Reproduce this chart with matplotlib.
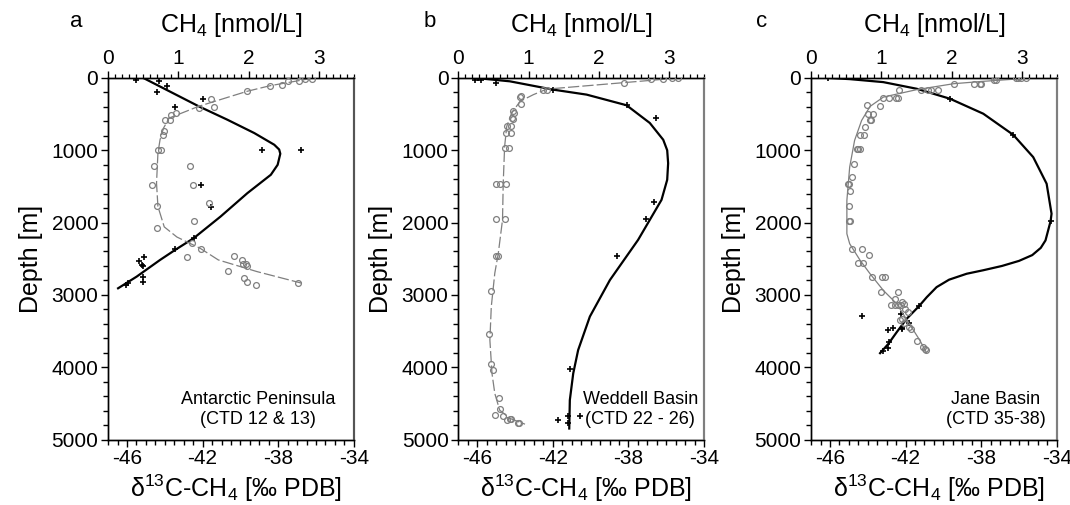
import matplotlib
matplotlib.use("Agg")
import matplotlib.pyplot as plt
from matplotlib.ticker import MultipleLocator, FixedLocator

# ==========================================
# Data
# circles = CH4 concentration (top axis), crosses = d13C-CH4 (bottom axis)
# ==========================================

# --- a: Antarctic Peninsula ---
a_conc = [2.91, 2.81, 2.72, 2.56, 2.48, 2.31, 1.98, 1.47, 1.51, 1.29, 0.97, 0.90, 0.88, 0.81,
          0.80, 0.78, 0.71, 0.75, 0.66, 1.17, 0.62, 1.21, 1.44, 0.69, 1.22, 0.69, 1.19, 1.33,
          1.13, 1.79, 1.91, 1.92, 1.97, 1.98, 1.71, 1.94, 1.98, 2.11, 2.71]
a_conc_depth = [14, 14, 37, 37, 93, 107, 185, 291, 402, 421, 485, 508, 578, 587,
                740, 785, 993, 993, 1224, 1224, 1478, 1478, 1731, 1778, 1972, 2078, 2277, 2368,
                2479, 2461, 2517, 2576, 2576, 2600, 2669, 2762, 2817, 2863, 2831]
a_d13c = [-45.52, -44.28, -43.89, -44.42, -41.97, -43.48, -38.86, -36.82, -42.08, -41.53,
          -42.47, -43.45, -45.08, -45.36, -45.22, -45.14, -45.14, -45.14, -45.93, -46.07]
a_d13c_depth = [24, 47, 107, 199, 291, 402, 1003, 1003, 1482, 1782,
                2216, 2368, 2471, 2526, 2586, 2600, 2756, 2825, 2839, 2863]
a_fit_conc = [2.93, 2.72, 2.31, 1.98, 1.29, 0.87, 0.79, 0.74, 0.71, 0.69, 0.71, 0.80, 0.98,
              1.31, 1.57, 2.12, 2.76]
a_fit_conc_depth = [0, 37, 107, 185, 393, 555, 693, 855, 1039, 1455, 1778, 2060, 2200,
                    2355, 2517, 2678, 2839]
a_fit_d13c = [-45.14, -42.2, -40.69, -39.27, -38.21, -37.95, -37.89, -38.03, -38.39, -39.63,
              -41.05, -42.47, -43.45, -44.25, -45.49, -46.47]
a_fit_d13c_depth = [0, 393, 578, 762, 924, 990, 1048, 1201, 1339, 1593,
                    1917, 2216, 2378, 2517, 2748, 2909]

# --- b: Weddell Basin ---
b_conc = [3.13, 3.05, 2.91, 2.74, 2.36, 1.26, 1.20, 0.89, 0.88, 0.89, 0.78, 0.80, 0.77, 0.78,
          0.70, 0.75, 0.68, 0.75, 0.67, 0.72, 0.54, 0.59, 0.68, 0.54, 0.67, 0.56, 0.54, 0.47,
          0.44, 0.47, 0.50, 0.58, 0.59, 0.53, 0.64, 0.69, 0.74, 0.75, 0.85, 0.87]
b_conc_depth = [5, 5, 15, 15, 70, 162, 171, 255, 262, 360, 462, 485, 554, 565,
                660, 660, 762, 762, 965, 965, 1464, 1464, 1464, 1953, 1953, 2461, 2461, 2946,
                3541, 3951, 4034, 4432, 4585, 4668, 4673, 4733, 4719, 4710, 4765, 4765]
b_d13c = [-45.94, -46.1, -45.8, -45.0, -41.98, -38.1, -36.55, -36.64, -37.08, -38.6,
          -41.1, -41.71, -41.19, -40.57, -41.19]
b_d13c_depth = [5, 25, 30, 70, 162, 370, 554, 1718, 1953, 2461,
                4030, 4733, 4673, 4673, 4778]
b_fit_conc = [3.15, 2.36, 1.26, 1.07, 0.88, 0.76, 0.69, 0.66, 0.64, 0.63, 0.57, 0.52, 0.47,
              0.45, 0.48, 0.52, 0.59, 0.74, 0.95]
b_fit_conc_depth = [0, 65, 155, 231, 324, 485, 670, 947, 1454, 1962, 2424, 2700, 3163,
                    3625, 4086, 4363, 4595, 4710, 4788]
b_fit_d13c = [-46.12, -44.27, -41.98, -40.21, -38.1, -36.87, -36.16, -35.95, -35.9, -35.95,
              -36.25, -36.87, -37.49, -38.98, -40.04, -40.66, -40.92, -41.1, -41.13]
b_fit_d13c_depth = [0, 47, 162, 231, 378, 623, 855, 1000, 1180, 1409,
                    1686, 1963, 2240, 2795, 3300, 3763, 4086, 4455, 4848]

# --- c: Jane Basin ---
c_conc = [2.92, 2.94, 2.99, 3.06, 2.63, 2.61, 2.42, 2.40, 2.32, 2.03, 1.81, 1.71, 1.66, 1.57,
          1.25, 1.24, 1.21, 1.11, 1.03, 0.98, 0.79, 0.81, 0.88, 0.84, 0.86, 0.77, 0.70, 0.76,
          0.65, 0.67, 0.70, 0.61, 0.58, 0.52, 0.54, 0.55, 0.54, 0.54, 0.55, 0.58, 0.72, 0.82,
          0.67, 0.74, 0.87, 1.01, 1.06, 1.00, 1.24, 1.19, 1.14, 1.19, 1.24, 1.28, 1.29, 1.32,
          1.34, 1.38, 1.26, 1.29, 1.33, 1.40, 1.42, 1.51, 1.59, 1.62, 1.63]
c_conc_depth = [7, 7, 7, 7, 35, 35, 90, 90, 90, 80, 173, 173, 173, 173,
                173, 279, 279, 279, 279, 394, 380, 495, 495, 578, 578, 680, 795, 795,
                979, 979, 979, 1187, 1372, 1463, 1463, 1570, 1777, 1980, 1980, 2362, 2362, 2455,
                2561, 2561, 2755, 2755, 2755, 2962, 2962, 3054, 3146, 3146, 3146, 3146, 3100, 3123,
                3192, 3239, 3354, 3330, 3391, 3446, 3469, 3640, 3723, 3746, 3769]
c_d13c = [-46.09, -39.65, -36.31, -34.33, -44.32, -42.95, -42.68, -42.24, -42.17, -42.17,
          -41.8, -41.29, -42.86, -42.91, -43.21]
c_d13c_depth = [3, 288, 786, 1980, 3299, 3483, 3455, 3262, 3455, 3470,
                3391, 3156, 3654, 3731, 3778]
c_fit_conc = [3.15, 2.44, 2.03, 1.50, 1.03, 0.84, 0.72, 0.62, 0.55, 0.51, 0.51, 0.55, 0.70,
              0.84, 1.03, 1.22, 1.40, 1.55, 1.64]
c_fit_conc_depth = [0, 48, 80, 163, 265, 394, 588, 864, 1233, 1694, 2155, 2293, 2524,
                    2708, 2939, 3123, 3400, 3630, 3792]
c_fit_d13c = [-46.09, -44.94, -43.18, -41.41, -39.65, -37.89, -36.31, -35.25, -34.54, -34.28,
              -34.33, -34.6, -34.85, -35.3, -36.0, -36.9, -37.9, -38.77, -39.7, -40.36,
              -40.88, -41.29, -41.94, -42.47, -42.91, -43.35]
c_fit_d13c_depth = [0, 17, 58, 150, 288, 495, 786, 1095, 1463, 1878,
                    1980, 2247, 2350, 2450, 2530, 2600, 2660, 2708, 2790, 2893,
                    3032, 3156, 3330, 3516, 3677, 3806]

panel_letters = ["a", "b", "c"]
panel_notes = ["Antarctic Peninsula\n(CTD 12 & 13)", "Weddell Basin\n(CTD 22 - 26)",
               "Jane Basin\n(CTD 35-38)"]

# ==========================================
# Style
# ==========================================
plt.rcParams["font.family"] = ["Liberation Sans", "DejaVu Sans"]
plt.rcParams["mathtext.default"] = "regular"

GRAY = "#7f7f7f"

fig = plt.figure(figsize=(10.7, 5.05), dpi=100)

lefts = [0.1010, 0.4283, 0.7580]
note_x = [0.61, 0.74, 0.75]
letter_x = [-0.13, -0.115, -0.20]
right_spine = ["#555555", GRAY, GRAY]
conc_dashed = [True, True, False]

panels = [
    (a_conc, a_conc_depth, a_d13c, a_d13c_depth, a_fit_conc, a_fit_conc_depth, a_fit_d13c, a_fit_d13c_depth),
    (b_conc, b_conc_depth, b_d13c, b_d13c_depth, b_fit_conc, b_fit_conc_depth, b_fit_d13c, b_fit_d13c_depth),
    (c_conc, c_conc_depth, c_d13c, c_d13c_depth, c_fit_conc, c_fit_conc_depth, c_fit_d13c, c_fit_d13c_depth),
]

for i, (conc, conc_d, d13c, d13c_d, fconc, fconc_d, fd13c, fd13c_d) in enumerate(panels):
    ax = fig.add_axes([lefts[i], 0.1297, 0.2297, 0.716])
    top = ax.twiny()

    # CH4 concentration on the top axis
    ls = (0, (9, 2.5)) if conc_dashed[i] else "-"
    top.plot(fconc, fconc_d, color=GRAY, lw=0.9, ls=ls, zorder=2)
    top.plot(conc, conc_d, ls="none", marker="o", ms=4.2, mfc="none", mec=GRAY, mew=0.9, zorder=3)

    # d13C on the bottom axis
    ax.plot(fd13c, fd13c_d, color="black", lw=1.6, zorder=4)
    ax.plot(d13c, d13c_d, ls="none", marker="+", ms=5, mec="black", mew=1.2, zorder=5)

    ax.set_xlim(-47, -34)
    top.set_xlim(0, 3.5)
    ax.set_ylim(5000, 0)

    ax.xaxis.set_major_locator(FixedLocator([-46, -42, -38, -34]))
    ax.xaxis.set_minor_locator(MultipleLocator(0.5))
    ax.yaxis.set_major_locator(MultipleLocator(1000))
    ax.yaxis.set_minor_locator(MultipleLocator(200))
    top.xaxis.set_major_locator(MultipleLocator(1))
    top.xaxis.set_minor_locator(MultipleLocator(0.1))

    ax.tick_params(axis="both", which="major", direction="out", length=5, width=1,
                   labelsize=15, pad=2)
    ax.tick_params(axis="both", which="minor", direction="out", length=3.5, width=1)
    top.tick_params(axis="x", which="major", direction="out", length=5, width=1,
                    labelsize=15, pad=2)
    top.tick_params(axis="x", which="minor", direction="out", length=3, width=0.9)
    ax.set_xticklabels(["-46", "-42", "-38", "-34"])

    for a in (ax, top):
        a.spines["right"].set_color(right_spine[i])
        a.spines["right"].set_linewidth(1.5)
        for s in ("left", "top", "bottom"):
            a.spines[s].set_linewidth(1.0)

    top.set_xlabel("CH$_4$ [nmol/L]", fontsize=18)
    top.xaxis.set_label_coords(0.5, 1.147)
    top.xaxis.label.set_va("center")

    ax.set_xlabel("δ$^{13}$C-CH$_4$ [‰ PDB]", fontsize=18)
    ax.xaxis.set_label_coords(0.52, -0.136)
    ax.xaxis.label.set_va("center")

    ax.set_ylabel("Depth [m]", fontsize=18)
    ax.yaxis.set_label_coords(-0.265, 0.5)

    ax.text(letter_x[i], 1.155, panel_letters[i], transform=ax.transAxes,
            fontsize=16, ha="center", va="center")
    ax.text(note_x[i], 0.084, panel_notes[i], transform=ax.transAxes,
            fontsize=13, ha="center", va="center", linespacing=1.25)

plt.savefig("out.png", dpi=100)
